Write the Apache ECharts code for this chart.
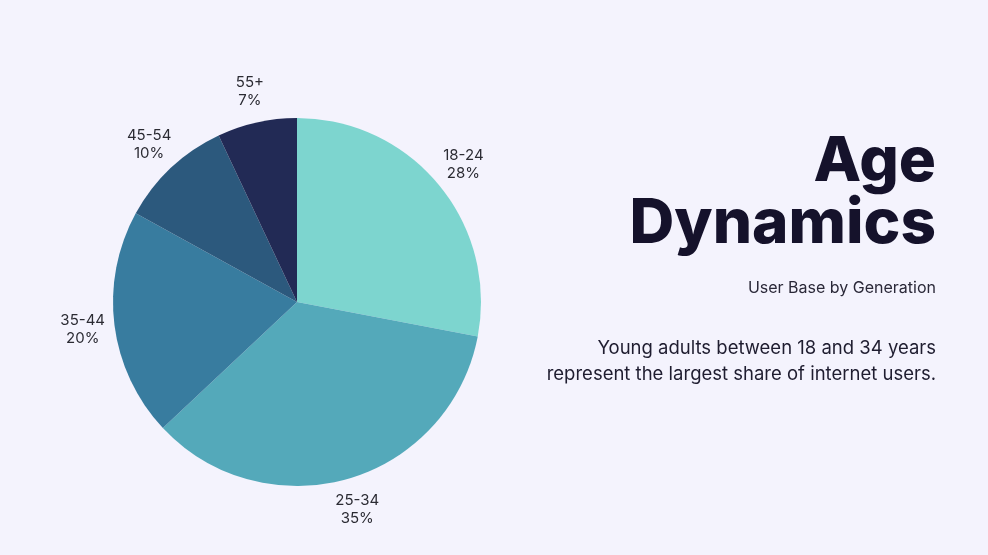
<!DOCTYPE html>
<html>
<head>
<meta charset="utf-8">
<script src="https://cdn.jsdelivr.net/npm/echarts@6/dist/echarts.min.js"></script>
<style>
html,body{margin:0;padding:0;background:#f4f3fd;}
#c{width:988px;height:555px;}
</style>
</head>
<body>
<div id="c"></div>
<script>
const categories = ['18-24', '25-34', '35-44', '45-54', '55+'];
const shares = [28, 35, 20, 10, 7];
const colors = ['#7dd5cf', '#54a9ba', '#387c9f', '#2c597d', '#222a55'];
const titleText = 'Age\nDynamics';
const subtitleText = 'User Base by Generation';
const noteText = 'Young adults between 18 and 34 years\nrepresent the largest share of internet users.';

const data = categories.map((c, i) => ({ name: c, value: shares[i] }));

const chart = echarts.init(document.getElementById('c'));
chart.setOption({
  backgroundColor: '#f4f3fd',
  animation: false,
  title: [
    {
      text: titleText, left: 936, top: 131, padding: 0, textAlign: 'right',
      textStyle: { fontFamily: 'Inter', fontWeight: 800, fontSize: 62, lineHeight: 62, color: '#15122b' }
    },
    {
      text: subtitleText, left: 936, top: 280, padding: 0, textAlign: 'right',
      textStyle: { fontFamily: 'Inter', fontWeight: 400, fontSize: 16, color: '#2a2838' }
    },
    {
      text: noteText, left: 936, top: 335, padding: 0, textAlign: 'right',
      textStyle: { fontFamily: 'Inter', fontWeight: 400, fontSize: 18.5, lineHeight: 26, color: '#1f1d30' }
    }
  ],
  series: [
    {
      type: 'pie',
      center: [297, 302],
      radius: [0, 184],
      startAngle: 90,
      clockwise: true,
      silent: true,
      color: colors,
      label: { show: false },
      labelLine: { show: false },
      itemStyle: { borderWidth: 0 },
      data: data
    },
    {
      type: 'pie',
      center: [297, 302],
      radius: [184, 242],
      startAngle: 90,
      clockwise: true,
      silent: true,
      itemStyle: { color: 'rgba(0,0,0,0)', borderWidth: 0 },
      label: {
        show: true, position: 'inside', formatter: '{b}\n{c}%',
        fontFamily: 'Inter', fontSize: 15, lineHeight: 18, color: '#2b2b33'
      },
      labelLine: { show: false },
      data: data
    }
  ]
});
</script>
</body>
</html>
